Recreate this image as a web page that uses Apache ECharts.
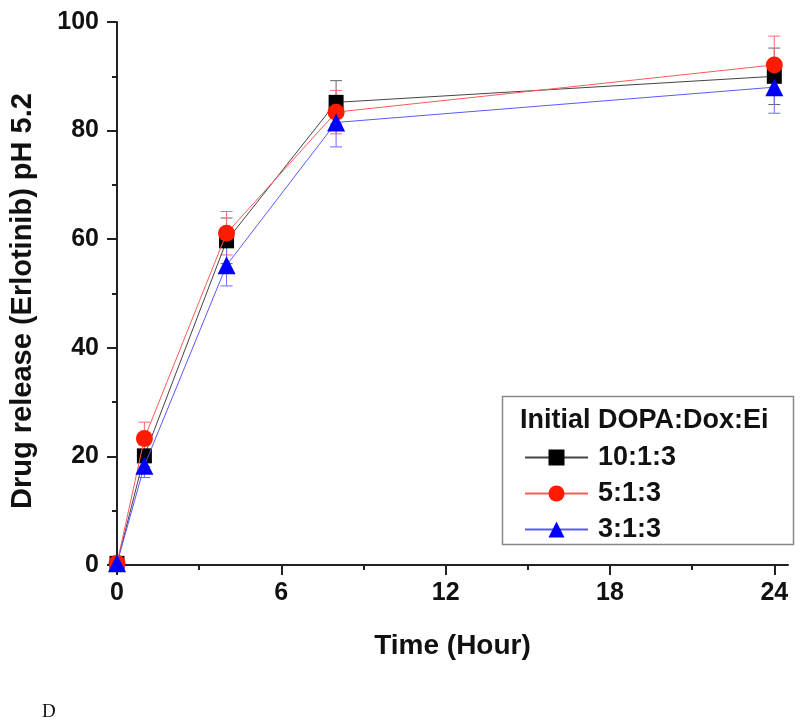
<!DOCTYPE html>
<html>
<head>
<meta charset="utf-8">
<script src="https://cdn.jsdelivr.net/npm/echarts@6/dist/echarts.min.js"></script>
<style>
html,body{margin:0;padding:0;background:#fff;}
#chart{width:800px;height:722px;}
</style>
</head>
<body>
<div id="chart"></div>
<script>
// ---- data ----
var timeHours = [0, 1, 4, 8, 24];
var seriesNames = ['10:1:3', '5:1:3', '3:1:3'];
var release_10_1_3 = [0.3, 20.1, 59.7, 85.2, 90.0];
var error_10_1_3   = [0.3, 2.0, 4.2, 4.0, 5.2];
var release_5_1_3  = [0.3, 23.3, 61.1, 83.4, 92.1];
var error_5_1_3    = [0.3, 3.0, 4.0, 4.0, 5.3];
var release_3_1_3  = [0.3, 18.3, 55.2, 81.5, 88.0];
var error_3_1_3    = [0.3, 2.2, 3.8, 4.5, 4.8];
var xMajorTicks = [0, 6, 12, 18, 24];
var xMinorTicks = [3, 9, 15, 21];
var legendTitle = 'Initial DOPA:Dox:Ei';

var chart = echarts.init(document.getElementById('chart'), null, {renderer: 'canvas'});

function pairs(xs, ys) { return xs.map(function (x, i) { return [x, ys[i]]; }); }
function errData(xs, ys, es) { return xs.map(function (x, i) { return [x, ys[i] - es[i], ys[i] + es[i]]; }); }
function errRenderer(color) {
  return function (params, api) {
    var x = api.value(0);
    var lo = api.coord([x, api.value(1)]);
    var hi = api.coord([x, api.value(2)]);
    var w = 6;
    var st = {stroke: color, lineWidth: 1};
    return {
      type: 'group',
      children: [
        {type: 'line', shape: {x1: lo[0], y1: lo[1], x2: hi[0], y2: hi[1]}, style: st},
        {type: 'line', shape: {x1: lo[0] - w, y1: lo[1], x2: lo[0] + w, y2: lo[1]}, style: st},
        {type: 'line', shape: {x1: hi[0] - w, y1: hi[1], x2: hi[0] + w, y2: hi[1]}, style: st}
      ]
    };
  };
}

var fontFam = '"Liberation Sans", Arial, sans-serif';
var axisColor = '#222';

var lineDefs = [
  {name: seriesNames[0], data: release_10_1_3, err: error_10_1_3, color: '#000000', line: '#444444', errColor: '#666666', symbol: 'rect', size: 15},
  {name: seriesNames[1], data: release_5_1_3, err: error_5_1_3, color: '#ff1a00', line: '#ff5a5a', errColor: '#ff6a6a', symbol: 'circle', size: 17},
  {name: seriesNames[2], data: release_3_1_3, err: error_3_1_3, color: '#0000ff', line: '#5a5aff', errColor: '#6a6aff', symbol: 'triangle', size: 18}
];

var series = [];
lineDefs.forEach(function (d) {
  series.push({
    type: 'custom',
    xAxisIndex: 0, yAxisIndex: 0,
    renderItem: errRenderer(d.errColor),
    data: errData(timeHours, d.data, d.err),
    encode: {x: 0, y: [1, 2]},
    z: 1,
    silent: true,
    clip: false
  });
});
lineDefs.forEach(function (d, i) {
  series.push({
    name: d.name,
    type: 'line',
    xAxisIndex: 0, yAxisIndex: 0,
    data: pairs(timeHours, d.data),
    symbol: d.symbol,
    symbolSize: d.size,
    showAllSymbol: true,
    itemStyle: {color: d.color},
    lineStyle: {color: d.line, width: 1},
    z: 2 + i,
    animation: false,
    clip: false
  });
});

var option = {
  backgroundColor: '#ffffff',
  animation: false,
  grid: {left: 115, right: 12, top: 22, bottom: 157},
  xAxis: [
    {
      type: 'value', min: 0, max: 24.5, interval: 6,
      name: 'Time (Hour)', nameLocation: 'middle', nameGap: 67,
      nameTextStyle: {fontFamily: fontFam, fontWeight: 'bold', fontSize: 28, color: '#111'},
      axisLine: {show: true, onZero: false, lineStyle: {color: axisColor, width: 2}},
      axisTick: {show: true, length: 10, customValues: xMajorTicks, lineStyle: {color: axisColor, width: 2}},
      axisLabel: {customValues: xMajorTicks, margin: 16, fontFamily: fontFam, fontWeight: 'bold', fontSize: 25, color: '#111'},
      splitLine: {show: false}
    },
    {
      type: 'value', min: 0, max: 24.5, gridIndex: 0, position: 'bottom',
      axisLine: {show: false},
      axisTick: {show: true, length: 5, customValues: xMinorTicks, lineStyle: {color: axisColor, width: 2}},
      axisLabel: {show: false},
      splitLine: {show: false}
    }
  ],
  yAxis: {
    type: 'value', min: 0, max: 100, interval: 20,
    name: 'Drug release (Erlotinib) pH 5.2', nameLocation: 'middle', nameGap: 80,
    nameTextStyle: {fontFamily: fontFam, fontWeight: 'bold', fontSize: 29, color: '#111', padding: [0, 15, 0, 0]},
    axisLine: {show: true, onZero: false, lineStyle: {color: axisColor, width: 2}},
    axisTick: {show: true, length: 10, lineStyle: {color: axisColor, width: 2}},
    minorTick: {show: true, splitNumber: 2, length: 5, lineStyle: {color: axisColor, width: 2}},
    axisLabel: {margin: 18, fontFamily: fontFam, fontWeight: 'bold', fontSize: 25, color: '#111'},
    splitLine: {show: false},
    minorSplitLine: {show: false}
  },
  legend: {
    orient: 'vertical',
    left: 519, top: 439,
    itemWidth: 63, itemHeight: 20, itemGap: 9,
    data: seriesNames,
    textStyle: {fontFamily: fontFam, fontWeight: 'bold', fontSize: 27, color: '#111', lineHeight: 27, padding: [0, 0, 0, 5]}
  },
  graphic: [
    {type: 'rect', left: 500, top: 394, shape: {width: 291, height: 148}, style: {fill: 'none', stroke: '#888', lineWidth: 1.5}, z: 10},
    {type: 'text', left: 520, top: 407, style: {text: legendTitle, font: 'bold 27px "Liberation Sans", Arial, sans-serif', fill: '#111'}, z: 10},
    {type: 'text', left: 42, top: 703, style: {text: 'D', font: '19px "Liberation Serif", "Times New Roman", serif', fill: '#111'}, z: 10}
  ],
  series: series
};
chart.setOption(option);
</script>
</body>
</html>
